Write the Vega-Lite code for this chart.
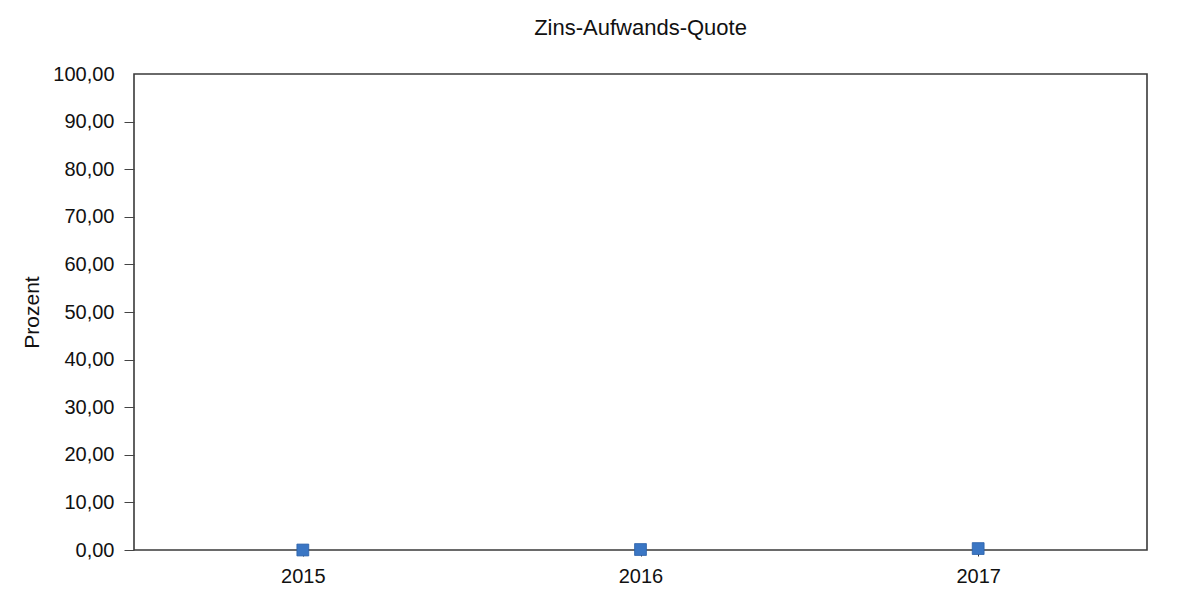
{
  "$schema": "https://vega.github.io/schema/vega-lite/v6.json",
  "autosize": "none",
  "width": 1013,
  "height": 476,
  "padding": {"left": 134, "top": 74, "right": 56, "bottom": 53},
  "background": "white",
  "title": {
    "text": "Zins-Aufwands-Quote",
    "font": "Liberation Sans",
    "fontSize": 22,
    "fontWeight": "normal",
    "color": "#111111",
    "anchor": "middle",
    "offset": 24
  },
  "data": {
    "values": [
      {"Jahr": "2015", "Prozent": 0.0},
      {"Jahr": "2016", "Prozent": 0.1},
      {"Jahr": "2017", "Prozent": 0.3}
    ]
  },
  "mark": {"type": "square", "size": 140, "filled": true, "color": "#3a76c4", "opacity": 1, "stroke": "#2a5fa8", "strokeWidth": 0.8},
  "encoding": {
    "x": {
      "field": "Jahr",
      "type": "ordinal",
      "scale": {"type": "point", "padding": 0.5},
      "axis": {
        "title": null,
        "labelAngle": 0,
        "labelFont": "Liberation Sans",
        "labelFontSize": 20,
        "labelColor": "#111111",
        "tickColor": "#333333",
        "tickSize": 6,
        "labelPadding": 10,
        "domain": false,
        "grid": false
      }
    },
    "y": {
      "field": "Prozent",
      "type": "quantitative",
      "scale": {"domain": [0, 100], "nice": false},
      "axis": {
        "title": "Prozent",
        "titleFont": "Liberation Sans",
        "titleFontSize": 21,
        "titleFontWeight": "normal",
        "titleColor": "#111111",
        "titlePadding": 10,
        "values": [0, 10, 20, 30, 40, 50, 60, 70, 80, 90, 100],
        "labelExpr": "replace(format(datum.value, '.2f'), '.', ',')",
        "labelFont": "Liberation Sans",
        "labelFontSize": 20,
        "labelColor": "#111111",
        "tickColor": "#444444",
        "tickOpacity": {"condition": {"test": "datum.value == 100", "value": 0}, "value": 1},
        "tickSize": 10,
        "labelPadding": 10,
        "domain": false,
        "grid": false
      }
    }
  },
  "config": {
    "view": {"stroke": "#3a3a3a", "strokeWidth": 1.6, "fill": "white"}
  }
}
